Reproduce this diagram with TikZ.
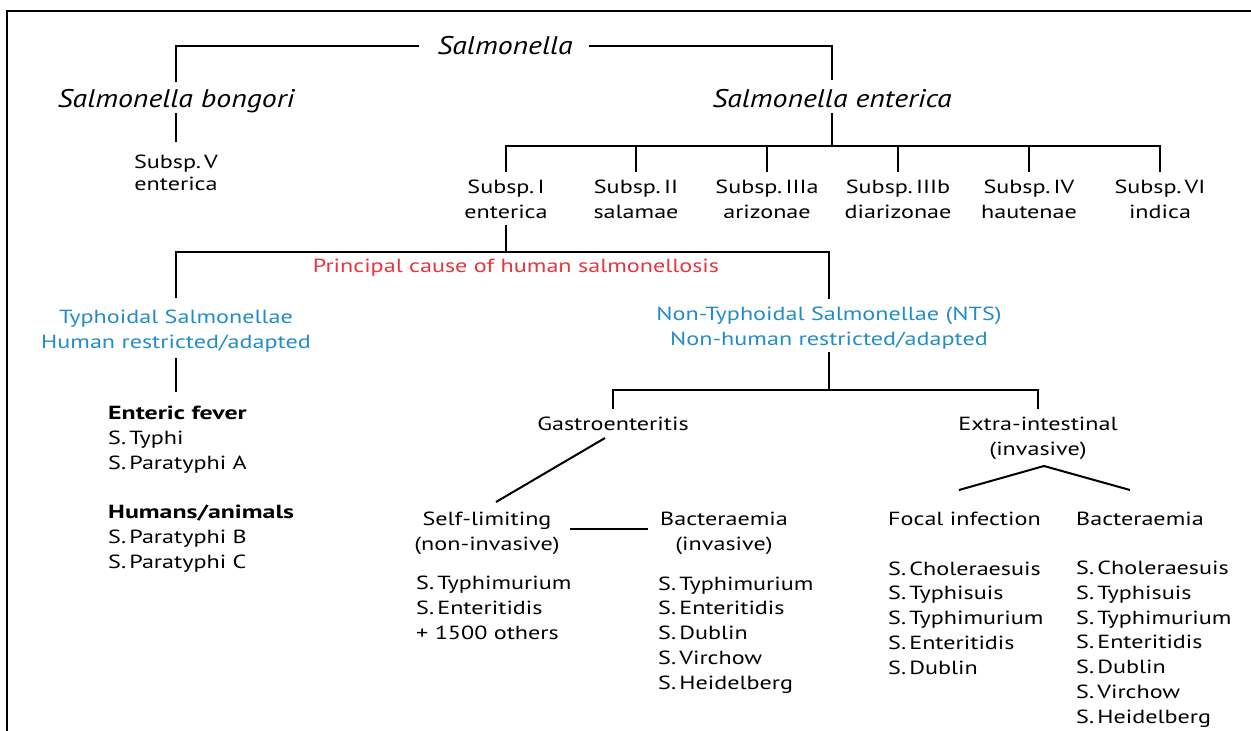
\documentclass[tikz,border=0pt]{standalone}
\usepackage{fontspec}
\setmainfont{PT Sans}[UprightFeatures={FakeStretch=1.27},BoldFeatures={FakeStretch=1.36},ItalicFeatures={FakeStretch=1.17}]
\definecolor{redt}{RGB}{232,52,62}
\definecolor{bluet}{RGB}{35,140,200}
\begin{document}
\begin{tikzpicture}[x=1pt,y=-1pt,
  ln/.style={line width=2pt,black},
  tx/.style={font=\fontsize{19}{24.7}\selectfont,inner sep=0pt,align=center,anchor=base},
  lst/.style={font=\fontsize{19}{24.7}\selectfont,inner sep=0pt,align=left,anchor=base west},
  ti/.style={font=\fontsize{25.5}{30}\selectfont\itshape,inner sep=0pt,anchor=base},
  bl/.style={tx,text=bluet},
]
\useasboundingbox (0,0) rectangle (1251,731);
\draw[line width=2pt] (7,731) -- (7,11) -- (1251,11);
% titles (multi-line nodes are anchored at the baseline of their last line)
\node[ti] (salm) at (505,54) {Salmonella};
\node[ti] (bong) at (176,107) {Salmonella bongori};
\node[ti] (ent) at (832,107) {Salmonella enterica};
\node[tx,font=\fontsize{19}{22}\selectfont] (sv) at (176,190) {Subsp.\,V\\enterica};
\node[tx] (s1) at (506,218) {Subsp.\,I\\enterica};
\node[tx] (s2) at (636,218) {Subsp.\,II\\salamae};
\node[tx] (s3) at (767,218) {Subsp.\,IIIa\\arizonae};
\node[tx] (s4) at (898,218) {Subsp.\,IIIb\\diarizonae};
\node[tx] (s5) at (1029,218) {Subsp.\,IV\\hautenae};
\node[tx] (s6) at (1160,218) {Subsp.\,VI\\indica};
\node[tx,text=redt] (red) at (516,272) {Principal cause of human salmonellosis};
\node[bl] (tl) at (176,348) {Typhoidal Salmonellae\\Human restricted/adapted};
\node[bl] (tr) at (829,345) {Non-Typhoidal Salmonellae (NTS)\\Non-human restricted/adapted};
\node[lst] (ef) at (108,568) {\textbf{Enteric fever}\\S.\,Typhi\\S.\,Paratyphi A\\[24.7pt]\textbf{Humans/animals}\\S.\,Paratyphi B\\S.\,Paratyphi C};
\node[tx] (gas) at (613,430) {Gastroenteritis};
\node[tx] (ext) at (1038,455) {Extra-intestinal\\(invasive)};
\node[tx] (self) at (487,550) {Self-limiting\\(non-invasive)};
\node[tx] (bac1) at (724,550) {Bacteraemia\\(invasive)};
\node[lst] (l1) at (416,639) {S.\,Typhimurium\\S.\,Enteritidis\\+ 1500 others};
\node[lst] (l2) at (658,689) {S.\,Typhimurium\\S.\,Enteritidis\\S.\,Dublin\\S.\,Virchow\\S.\,Heidelberg};
\node[lst] (foc) at (888,525) {Focal infection};
\node[lst] (bac2) at (1076,525) {Bacteraemia};
\node[lst] (l3) at (888,674) {S.\,Choleraesuis\\S.\,Typhisuis\\S.\,Typhimurium\\S.\,Enteritidis\\S.\,Dublin};
\node[lst] (l4) at (1076,723) {S.\,Choleraesuis\\S.\,Typhisuis\\S.\,Typhimurium\\S.\,Enteritidis\\S.\,Dublin\\S.\,Virchow\\S.\,Heidelberg};
% connectors
\draw[ln] ([xshift=-18pt]salm.west |- 0,46) -| (bong.north |- 0,82);
\draw[ln] ([xshift=16pt]salm.east |- 0,46) -| (ent.north |- 0,80);
\draw[ln] (bong.south |- 0,113) -- (sv.north |- 0,142);
\draw[ln] (ent.south |- 0,113) -- (ent.south |- 0,146);
\draw[ln] (s1.north |- 0,172) |- (s6.north |- 0,146) -- (s6.north |- 0,172);
\foreach \n in {s2,s3,s4,s5} \draw[ln] (\n.north |- 0,146) -- (\n.north |- 0,172);
\draw[ln] (s1.south |- 0,225) -- (s1.south |- 0,252);
\draw[ln] (tl.north |- 0,298) |- (tr.north |- 0,252) -- (tr.north |- 0,299);
\draw[ln] (tl.south |- 0,358) -- (tl.south |- 0,392);
\draw[ln] (tr.south |- 0,352) -- (tr.south |- 0,390);
\draw[ln] (gas.north |- 0,409) |- (ext.north |- 0,390) -- (ext.north |- 0,409);
\coordinate (g1) at (605,438);
\coordinate (g2) at (496,502);
\draw[ln] (g1) -- (g2);
\coordinate (h1) at (570,529);
\coordinate (h2) at (648,529);
\draw[ln] (h1) -- (h2);
\coordinate (v1) at (959,490);
\coordinate (v2) at (1044,466);
\coordinate (v3) at (1130,490);
\draw[ln] (v1) -- (v2) -- (v3);
\end{tikzpicture}
\end{document}
